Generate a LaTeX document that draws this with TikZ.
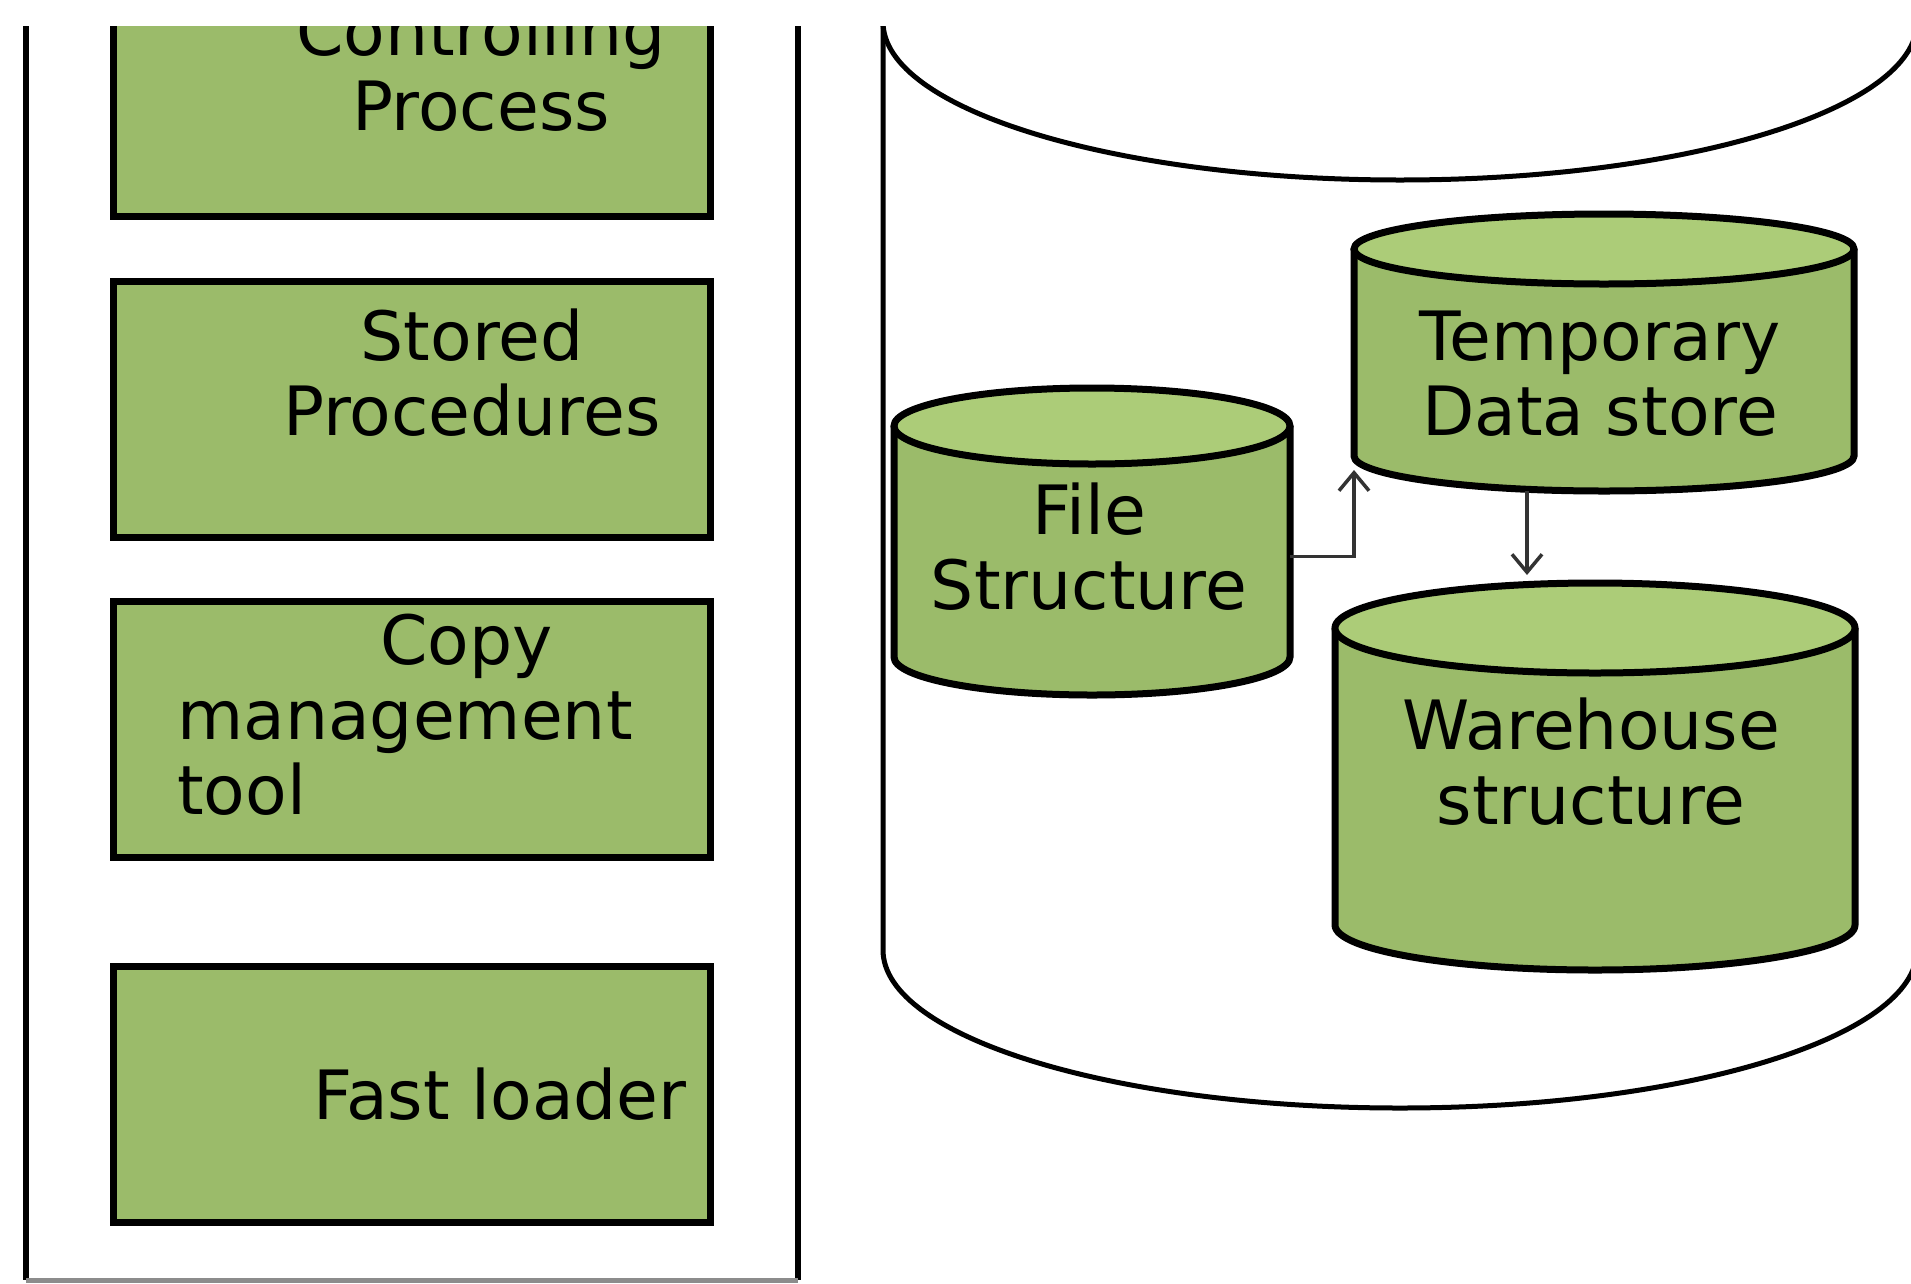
\documentclass[tikz,border=0pt]{standalone}
\usepackage{fontspec}
\setmainfont{DejaVu Sans}
\usepackage{tikz}
\usetikzlibrary{arrows.meta, positioning, calc}

\definecolor{boxgreen}{RGB}{155,187,106}
\definecolor{lidgreen}{RGB}{172,204,120}

\newcommand{\drum}[9][]{%
	\path[drumline, #1, fill=#8] (#3-#6,#4) -- (#3-#6,#5) arc[start angle=180, end angle=0, x radius=#6, y radius=#7] -- (#3+#6,#4);
	\path[drumline, #1, fill=#9] (#3,#4) ellipse[x radius=#6, y radius=#7];
	\node[inner sep=0pt, outer sep=0pt, minimum width={2*#6*1pt}, minimum height={(#5-#4+2*#7)*1pt}] (#2) at (#3,{(#4+#5)/2}) {};
}

\begin{document}
\begin{tikzpicture}[x=1pt, y=-1pt,
	drumline/.style={draw=black, line width=7pt},
	gbox/.style={draw=black, line width=7pt, fill=boxgreen, rectangle, inner sep=0pt, minimum width=597pt, minimum height=256pt},
	label/.style={font=\fontsize{68}{75}\selectfont, inner sep=0pt, align=center, anchor=base},
	flow/.style={draw=black!80, line width=3.5pt, -{Straight Barb[length=18pt, width=30pt]}}]
	\useasboundingbox (0,0) rectangle (1911,1283);
	\fill[white] (0,0) rectangle (1911,1283);
	\clip (0,26) rectangle (1911,1283);

	\draw[line width=6pt] (26,0) -- (26,1280) (798,0) -- (798,1280);
	\draw[line width=5pt, black!45] (26,1280) -- (798,1280);

	\node[gbox, minimum height=236pt] (ctrl) at (411.5,98) {};
	\node[gbox] (stored) at (411.5,409) {};
	\node[gbox] (copy) at (411.5,729) {};
	\node[gbox] (fast) at (411.5,1094) {};

	\node[label] (ctrltxt) at (481,130) {Controlling\\Process};
	\node[label] (storedtxt) at (472,435) {Stored\\Procedures};
	\node[label, align=left, anchor=base west] (copytxt) at (177,814) {\hspace*{203pt}Copy\\management\\tool};
	\node[label] (fasttxt) at (500,1119) {Fast loader};

	\drum[line width=5pt]{store}{1400}{22}{950}{517}{158}{white}{white}
	\drum{file}{1092}{426}{657}{198}{38}{boxgreen}{lidgreen}
	\drum{temp}{1604}{249}{456}{250}{35}{boxgreen}{lidgreen}
	\drum{ware}{1595}{628}{925}{260}{45}{boxgreen}{lidgreen}

	\node[label] (filetxt) at (1089,609) {File\\Structure};
	\node[label] (temptxt) at (1600,435) {Temporary\\Data store};
	\node[label] (waretxt) at (1591,824) {Warehouse\\structure};

	\draw[flow] ([yshift=-15pt]file.east) -| ([yshift=21pt]temp.south west);
	\draw[flow] ([xshift=-77pt]temp.south) -- ([xshift=-68pt,yshift=8pt]ware.north);
\end{tikzpicture}
\end{document}
